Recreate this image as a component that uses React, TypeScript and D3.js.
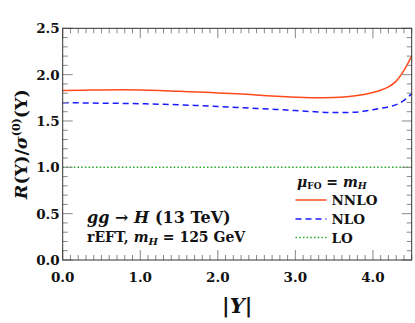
import React from "react";
import * as d3 from "d3";

// rapidity grid and ratio curves
const rapidity = [0, 0.25, 0.5, 0.75, 1.0, 1.25, 1.5, 1.75, 2.0, 2.25, 2.5, 2.75, 3.0, 3.25, 3.5, 3.75, 4.0, 4.1, 4.2, 4.3, 4.4, 4.5];
const nnlo = [1.83, 1.832, 1.835, 1.836, 1.835, 1.83, 1.82, 1.813, 1.803, 1.793, 1.78, 1.767, 1.757, 1.751, 1.754, 1.77, 1.808, 1.832, 1.868, 1.93, 2.045, 2.2];
const nlo = [1.697, 1.695, 1.692, 1.69, 1.686, 1.681, 1.675, 1.666, 1.656, 1.646, 1.636, 1.625, 1.612, 1.6, 1.591, 1.594, 1.622, 1.636, 1.652, 1.676, 1.722, 1.795];
const lo = rapidity.map(() => 1.0);

const xTicks = [0, 1, 2, 3, 4];
const yTicks = [0, 0.5, 1.0, 1.5, 2.0, 2.5];

const W = 415;
const H = 323;
const m = { left: 62.7, top: 28.3, right: 3.3, bottom: 63 };

const serif = "'DejaVu Serif', serif";

export default function App() {
  const x = d3.scaleLinear().domain([0, 4.5]).range([m.left, W - m.right]);
  const y = d3.scaleLinear().domain([0, 2.5]).range([H - m.bottom, m.top]);

  const line = d3
    .line<number>()
    .x((_, i) => x(rapidity[i]))
    .y((d) => y(d))
    .curve(d3.curveMonotoneX);

  const x0 = x.range()[0], x1 = x.range()[1];
  const y0 = y.range()[0], y1 = y.range()[1];

  // minor ticks every 0.1
  const xMinor = d3.range(0, 46).map((i) => i / 10);
  const yMinor = d3.range(0, 26).map((i) => i / 10);
  const isMajX = (v: number) => Math.abs(v - Math.round(v)) < 1e-6;
  const isMajY = (v: number) => Math.abs(v * 2 - Math.round(v * 2)) < 1e-6;

  const tickColor = "#888";

  return (
    <svg width={W} height={H} style={{ position: "absolute", left: 0, top: 0 }}>
      <rect width={W} height={H} fill="white" />

      {/* curves */}
      <path d={line(lo) || ""} fill="none" stroke="#22aa22" strokeWidth={1.4} strokeDasharray="1.5,2.2" />
      <path d={line(nlo) || ""} fill="none" stroke="#1a1aff" strokeWidth={1.5} strokeDasharray="6,4" />
      <path d={line(nnlo) || ""} fill="none" stroke="#ff4a1c" strokeWidth={1.5} />

      {/* ticks on all four sides, pointing inward */}
      {xMinor.map((v) => {
        const len = isMajX(v) ? 10 : 5;
        return (
          <g key={"xt" + v} stroke={tickColor} strokeWidth={1}>
            <line x1={x(v)} x2={x(v)} y1={y0} y2={y0 - len} />
            <line x1={x(v)} x2={x(v)} y1={y1} y2={y1 + len} />
          </g>
        );
      })}
      {yMinor.map((v) => {
        const len = isMajY(v) ? 10 : 5;
        return (
          <g key={"yt" + v} stroke={tickColor} strokeWidth={1}>
            <line x1={x0} x2={x0 + len} y1={y(v)} y2={y(v)} />
            <line x1={x1} x2={x1 - len} y1={y(v)} y2={y(v)} />
          </g>
        );
      })}
      <rect x={x0} y={y1} width={x1 - x0} height={y0 - y1} fill="none" stroke="#333" strokeWidth={1} />

      {/* tick labels */}
      {xTicks.map((v) => (
        <text key={"xl" + v} x={x(v)} y={y0 + 22} textAnchor="middle" fontFamily={serif} fontWeight="bold" fontSize={13.5} fill="#111">
          {v.toFixed(1)}
        </text>
      ))}
      {yTicks.map((v) => (
        <text key={"yl" + v} x={x0 - 3} y={y(v) + 5} textAnchor="end" fontFamily={serif} fontWeight="bold" fontSize={13.5} fill="#111">
          {v.toFixed(1)}
        </text>
      ))}

      {/* axis titles */}
      <text x={(x0 + x1) / 2} y={313} textAnchor="middle" fontFamily={serif} fontWeight="bold" fontSize={21} fill="#111">
        |<tspan fontStyle="italic">Y</tspan>|
      </text>
      <text transform={`translate(27,${(y0 + y1) / 2}) rotate(-90)`} textAnchor="middle" fontFamily={serif} fontWeight="bold" fontSize={17.5} fill="#111">
        <tspan fontStyle="italic">R</tspan>(Y)/<tspan fontStyle="italic">σ</tspan>
        <tspan fontSize={11} dy={-7}>(0)</tspan>
        <tspan dy={7}>(Y)</tspan>
      </text>

      {/* process annotation */}
      <text x={87} y={223} fontFamily={serif} fontWeight="bold" fontSize={16} fill="#111">
        <tspan fontStyle="italic">gg</tspan> → <tspan fontStyle="italic">H</tspan>
        <tspan dx={6}>(13 TeV)</tspan>
      </text>
      <text x={87} y={242} fontFamily={serif} fontWeight="bold" fontSize={14} fill="#111">
        rEFT, <tspan fontStyle="italic">m</tspan>
        <tspan fontSize={10} dy={3} fontStyle="italic">H</tspan>
        <tspan dy={-3}> = 125 GeV</tspan>
      </text>

      {/* legend */}
      <text x={297} y={186.5} fontFamily={serif} fontWeight="bold" fontSize={14} fill="#111">
        <tspan fontStyle="italic">μ</tspan>
        <tspan fontSize={9} dy={2}>FO</tspan>
        <tspan dy={-2}> = </tspan>
        <tspan fontStyle="italic">m</tspan>
        <tspan fontSize={9.5} dy={2} fontStyle="italic">H</tspan>
      </text>
      {[
        { label: "NNLO", color: "#ff4a1c", dash: null, yy: 200 },
        { label: "NLO", color: "#1a1aff", dash: "6,4", yy: 219 },
        { label: "LO", color: "#22aa22", dash: "1.5,2.2", yy: 237.5 },
      ].map((d) => (
        <g key={d.label}>
          <line x1={295.5} x2={326.5} y1={d.yy} y2={d.yy} stroke={d.color} strokeWidth={1.5} strokeDasharray={d.dash || undefined} />
          <text x={331.5} y={d.yy + 5} fontFamily={serif} fontWeight="bold" fontSize={13.5} fill="#111">
            {d.label}
          </text>
        </g>
      ))}
    </svg>
  );
}
